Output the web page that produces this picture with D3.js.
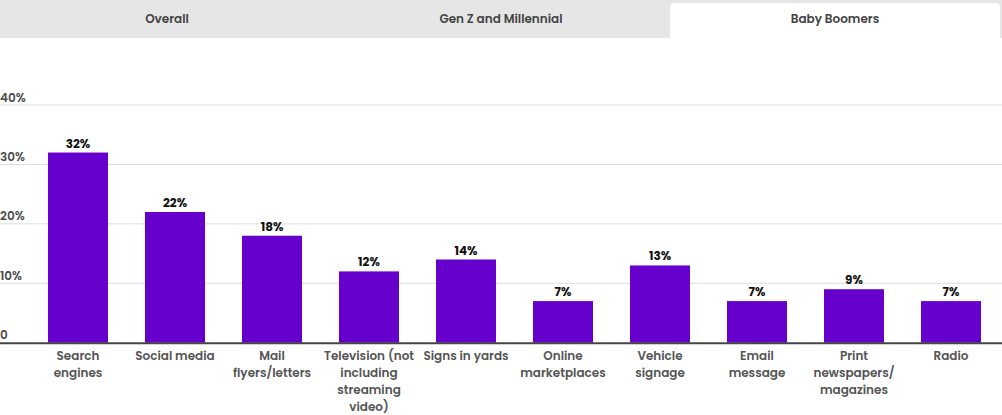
<!DOCTYPE html>
<html lang="en">

<head>
  <meta charset="UTF-8">
  <script src="https://d3js.org/d3.v7.min.js"></script>
  <style>
    body { margin: 0; background: #fff; }
    text { font-family: "Poppins", Inter, "Open Sans", sans-serif; }
  </style>
</head>

<body>
  <svg id="chart" width="1002" height="415"></svg>

  <script>
    // data
    const tabs = ["Overall", "Gen Z and Millennial", "Baby Boomers"];
    const activeTab = "Baby Boomers";
    const categories = ["Search engines", "Social media", "Mail flyers/letters",
      "Television (not including streaming video)", "Signs in yards", "Online marketplaces",
      "Vehicle signage", "Email message", "Print newspapers/magazines", "Radio"];
    const tickLines = [["Search", "engines"], ["Social media"], ["Mail", "flyers/letters"],
      ["Television (not", "including", "streaming", "video)"], ["Signs in yards"],
      ["Online", "marketplaces"], ["Vehicle", "signage"], ["Email", "message"],
      ["Print", "newspapers/", "magazines"], ["Radio"]];
    const values = [32, 22, 18, 12, 14, 7, 13, 7, 9, 7];
    const yTicks = [0, 10, 20, 30, 40];

    const svg = d3.select("#chart");
    const width = +svg.attr("width");

    // tab bar
    const tabX = d3.scaleBand().domain(tabs).range([0, width]);
    svg.append("rect")
      .attr("x", 0).attr("y", 0)
      .attr("width", width).attr("height", 38)
      .attr("fill", "#e6e6e6");
    svg.append("path")
      .attr("d", () => {
        const x0 = tabX(activeTab) + 2, x1 = tabX(activeTab) + tabX.bandwidth() - 2, r = 4;
        return `M${x0},38 V${3 + r} Q${x0},3 ${x0 + r},3 H${x1 - r} Q${x1},3 ${x1},${3 + r} V38 Z`;
      })
      .attr("fill", "#fff");
    svg.selectAll("text.tab").data(tabs)
      .join("text")
      .attr("class", "tab")
      .attr("x", d => tabX(d) + tabX.bandwidth() / 2)
      .attr("y", 23)
      .attr("text-anchor", "middle")
      .attr("font-size", 12)
      .attr("font-weight", 600)
      .attr("fill", "#444")
      .text(d => d);

    // scales
    const x = d3.scaleBand().domain(categories)
      .range([29.5, 999.5])
      .paddingInner(37 / 97)
      .paddingOuter(37 / 97 / 2);
    const y = d3.scaleLinear().domain([0, 40]).range([342.7, 105]);

    // grid
    svg.selectAll("line.grid").data(yTicks.filter(d => d > 0))
      .join("line")
      .attr("class", "grid")
      .attr("x1", 0).attr("x2", width)
      .attr("y1", d => y(d)).attr("y2", d => y(d))
      .attr("stroke", "#dcdcdc");

    svg.selectAll("text.ytick").data(yTicks)
      .join("text")
      .attr("class", "ytick")
      .attr("x", 0)
      .attr("y", d => y(d) - 3.5)
      .attr("font-size", 12)
      .attr("font-weight", 600)
      .attr("fill", "#4a4a4a")
      .text(d => d === 0 ? "0" : d + "%");

    // bars
    svg.selectAll("rect.bar").data(values)
      .join("rect")
      .attr("class", "bar")
      .attr("x", (d, i) => x(categories[i]))
      .attr("y", d => y(d))
      .attr("width", x.bandwidth())
      .attr("height", d => y(0) - y(d))
      .attr("fill", "#6600cc");

    svg.selectAll("text.val").data(values)
      .join("text")
      .attr("class", "val")
      .attr("x", (d, i) => x(categories[i]) + x.bandwidth() / 2)
      .attr("y", d => y(d) - 5)
      .attr("text-anchor", "middle")
      .attr("font-size", 12)
      .attr("font-weight", 700)
      .attr("fill", "#111")
      .text(d => d + "%");

    // baseline
    svg.append("line")
      .attr("x1", 0).attr("x2", width)
      .attr("y1", y(0) + 0.5).attr("y2", y(0) + 0.5)
      .attr("stroke", "#444")
      .attr("stroke-width", 2);

    // category labels
    const labels = svg.selectAll("text.cat").data(categories)
      .join("text")
      .attr("class", "cat")
      .attr("text-anchor", "middle")
      .attr("font-size", 12)
      .attr("font-weight", 600)
      .attr("fill", "#555");
    labels.selectAll("tspan").data((d, i) => tickLines[i].map(t => ({ t, c: d })))
      .join("tspan")
      .attr("x", d => x(d.c) + x.bandwidth() / 2)
      .attr("y", (d, j) => 359.5 + j * 17)
      .text(d => d.t);
  </script>
</body>

</html>
